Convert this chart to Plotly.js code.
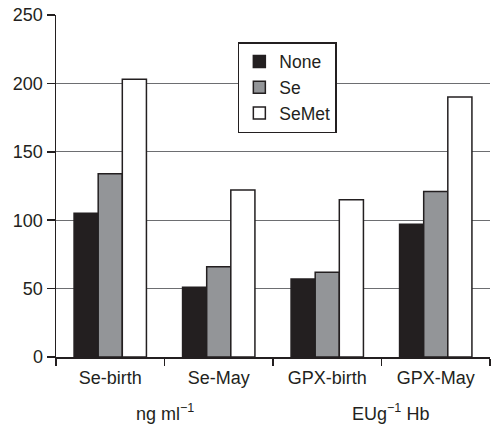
<!DOCTYPE html>
<html>
<head>
<meta charset="utf-8">
<script src="https://cdn.plot.ly/plotly-3.0.1.min.js"></script>
<style>html,body{margin:0;padding:0;background:#fff;}#chart{width:494px;height:424px;}</style>
</head>
<body>
<div id="chart"></div>
<script>
const categories = ["Se-birth", "Se-May", "GPX-birth", "GPX-May"];
const noneValues = [105, 51, 57, 97];
const seValues = [134, 66, 62, 121];
const semetValues = [203, 122, 115, 190];
const seriesNames = ["None", "Se", "SeMet"];
const unitLabels = ["ng ml<sup>\u22121</sup>", "EUg<sup>\u22121</sup> Hb"];

const fills = ["#231f20", "#939598", "#ffffff"];
const outline = "#231f20";
const font = "Liberation Sans, Arial, sans-serif";

const traces = [noneValues, seValues, semetValues].map((vals, i) => ({
  type: "bar",
  name: seriesNames[i],
  x: categories,
  y: vals,
  marker: {color: fills[i], line: {color: outline, width: 1.5}},
  hoverinfo: "skip"
}));

const layout = {
  width: 494,
  height: 424,
  margin: {l: 56, r: 4, t: 15, b: 67},
  paper_bgcolor: "#ffffff",
  plot_bgcolor: "#ffffff",
  barmode: "group",
  bargap: 0.333,
  bargroupgap: 0,
  font: {family: font, size: 18, color: "#231f20"},
  showlegend: true,
  legend: {
    x: 0.419, y: 0.921, xanchor: "left", yanchor: "top",
    bgcolor: "#ffffff", bordercolor: "#231f20", borderwidth: 1.5,
    font: {family: font, size: 17.5, color: "#231f20"},
    tracegroupgap: 0
  },
  xaxis: {
    type: "category",
    showline: true, linecolor: "#231f20", linewidth: 1.5,
    ticks: "outside", ticklen: 7, tickwidth: 1.5, tickcolor: "#231f20",
    tickson: "boundaries",
    ticklabelstandoff: 4,
    showgrid: false, zeroline: false,
    tickfont: {family: font, size: 18, color: "#231f20"}
  },
  yaxis: {
    range: [0, 250],
    tickvals: [0, 50, 100, 150, 200, 250],
    showline: true, linecolor: "#231f20", linewidth: 1.5,
    ticks: "outside", ticklen: 8, tickwidth: 1.5, tickcolor: "#231f20",
    showgrid: true, gridcolor: "#6d6e71", gridwidth: 1,
    zeroline: false,
    tickfont: {family: font, size: 18, color: "#231f20"}
  },
  annotations: [
    {text: unitLabels[0], x: 0.5, xref: "x", y: -0.162, yref: "paper", yanchor: "middle",
     showarrow: false, font: {family: font, size: 18, color: "#231f20"}},
    {text: unitLabels[1], x: 2.58, xref: "x", y: -0.162, yref: "paper", yanchor: "middle",
     showarrow: false, font: {family: font, size: 18, color: "#231f20"}}
  ]
};

Plotly.newPlot("chart", traces, layout, {staticPlot: true, displayModeBar: false});
</script>
</body>
</html>
